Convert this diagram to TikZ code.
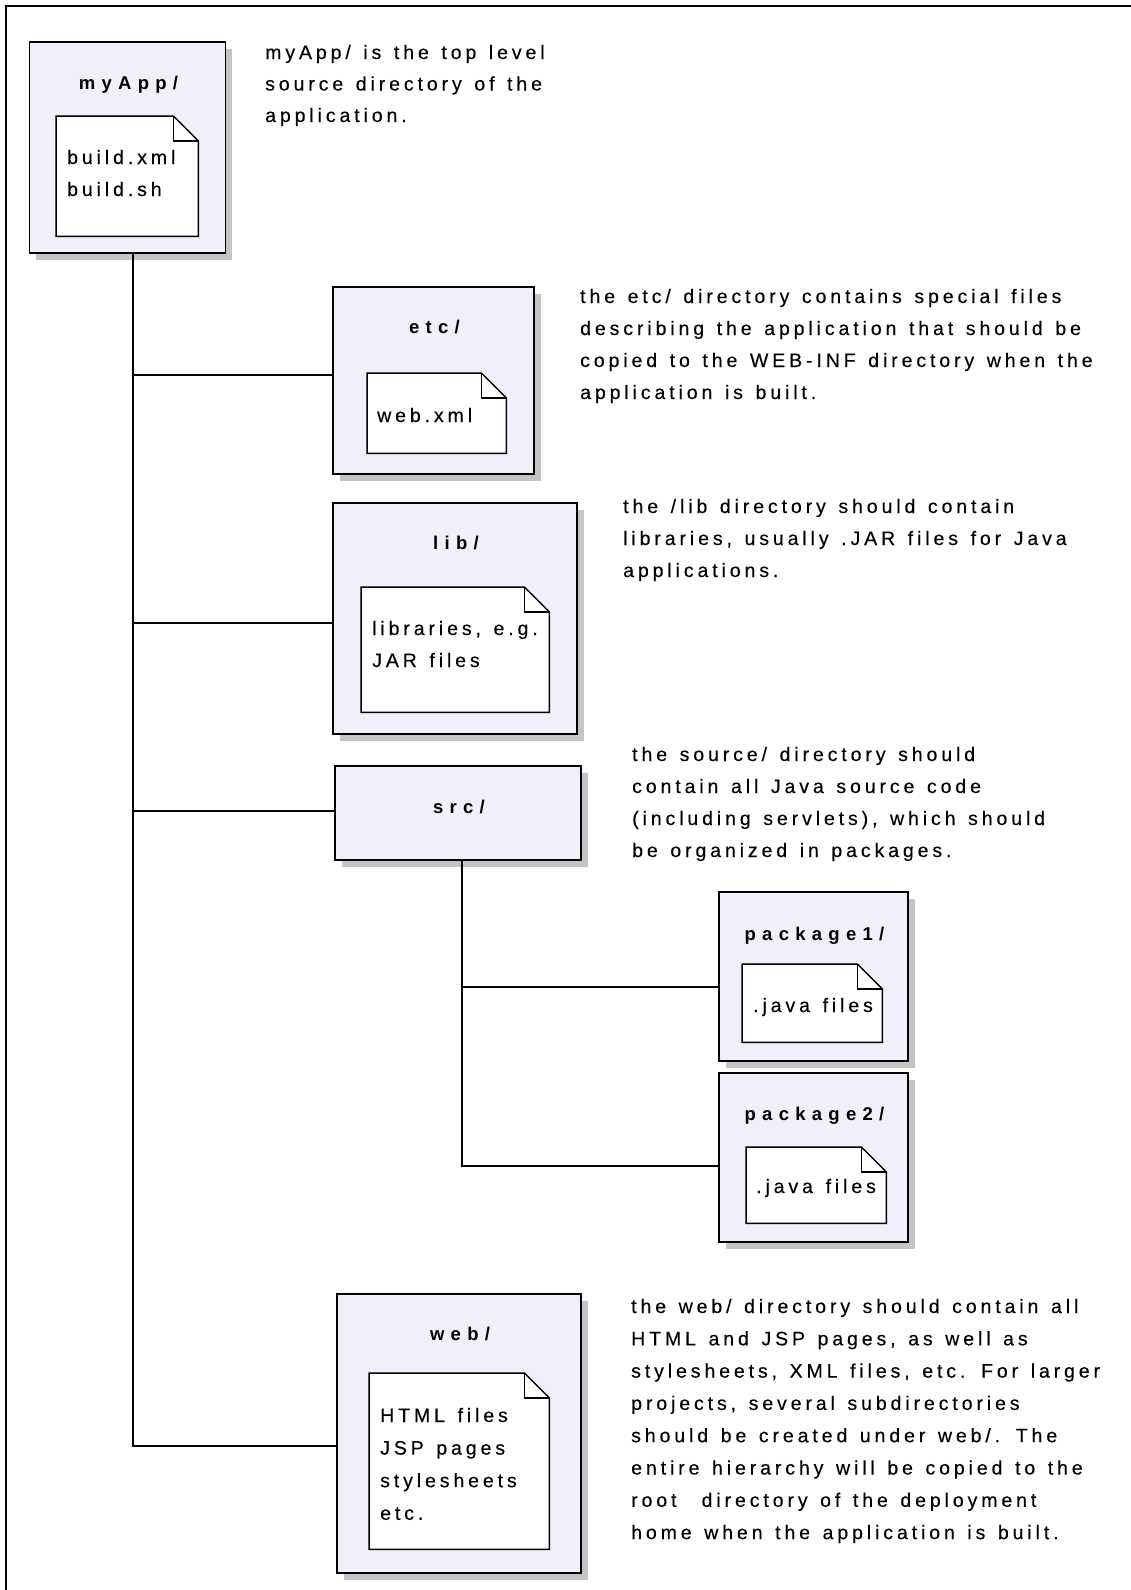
\documentclass[tikz,border=0pt]{standalone}
\usepackage{fontspec}
% tracked sans text; the word space is widened a little to go with the tracking
\setmainfont{Liberation Sans}[LetterSpace=20, WordSpace=1.35,
  UprightFeatures={FakeBold=0.3}]
\usetikzlibrary{shadows}

\definecolor{boxfill}{RGB}{240,240,250}
\definecolor{shadowgrey}{RGB}{196,196,196}

% several left-aligned lines whose baseline is the first line
\newcommand\txtlines[1]{\begin{tabular}[t]{@{}l@{}}#1\end{tabular}}

% a note sheet with a folded top-right corner, drawn round a named node
\newcommand\foldnote[1]{%
  \draw[notesheet] (#1.north west) -- ([xshift=-25pt]#1.north east)
    -- ([yshift=-25pt]#1.north east) -- (#1.south east)
    -- (#1.south west) -- cycle;
  \draw[foldline] ([xshift=-25pt]#1.north east) |- ([yshift=-25pt]#1.north east);
}

\tikzset{
  dirbox/.style={draw, fill=boxfill, line width=1.6pt, anchor=north west,
    inner sep=0pt, general shadow={fill=shadowgrey, shadow xshift=7pt, shadow yshift=-7pt}},
  notearea/.style={anchor=north west, inner sep=0pt},
  notesheet/.style={draw, fill=white, line width=1.5pt, line join=miter},
  foldline/.style={draw, line width=1.5pt},
  dirtitle/.style={anchor=base, inner sep=0pt, xshift=2pt,
    font=\bfseries\fontsize{18.5pt}{20pt}\selectfont\addfontfeature{LetterSpace=34}},
  body/.style={anchor=base west, inner sep=0pt, font=\fontsize{19.5pt}{32pt}\selectfont},
  conn/.style={line width=1.5pt},
}

\begin{document}
\begin{tikzpicture}[x=1pt, y=-1pt]
\useasboundingbox (0,0) rectangle (1130,1590);

% page frame (left and top edges)
\draw[line width=2pt] (6,1600) -- (6,6) -- (1140,6);

% ---- myApp/ ----
\node[dirbox, minimum width=196pt, minimum height=211pt] (myApp) at (28.5,41) {};
\node[dirtitle] (myAppT) at (126.5,89) {myApp/};
\node[notearea, minimum width=142pt, minimum height=120pt] (myAppN) at (56,116) {};
\foldnote{myAppN}
\node[body] (myAppF) at (67,164) {\txtlines{build.xml\\build.sh}};
\node[body, font=\fontsize{19.5pt}{31.5pt}\selectfont] (myAppD) at (265,59)
  {\txtlines{myApp/ is the top level\\source directory of the\\application.}};

% ---- etc/ ----
\node[dirbox, minimum width=201pt, minimum height=187pt] (etc) at (332,286) {};
\node[dirtitle] (etcT) at (432.5,333) {etc/};
\node[notearea, minimum width=139pt, minimum height=80pt] (etcN) at (367,373) {};
\foldnote{etcN}
\node[body] (etcF) at (377,422) {web.xml};
\node[body] (etcD) at (580,303)
  {\txtlines{the etc/ directory contains special files\\describing the application that should be\\copied to the WEB-INF directory when the\\application is built.}};

% ---- lib/ ----
\node[dirbox, minimum width=244pt, minimum height=231pt] (lib) at (332,502) {};
\node[dirtitle] (libT) at (454,549) {lib/};
\node[notearea, minimum width=188pt, minimum height=125pt] (libN) at (361,587) {};
\foldnote{libN}
\node[body] (libF) at (372,635) {\txtlines{libraries, e.g.\\JAR files}};
\node[body] (libD) at (623,513)
  {\txtlines{the /lib directory should contain\\libraries, usually .JAR files for Java\\applications.}};

% ---- src/ ----
\node[dirbox, minimum width=246pt, minimum height=94pt] (src) at (334,765) {};
\node[dirtitle] (srcT) at (457,813) {src/};
\node[body] (srcD) at (632,761)
  {\txtlines{the source/ directory should\\contain all Java source code\\(including servlets), which should\\be organized in packages.}};

% ---- package1/ ----
\node[dirbox, minimum width=189pt, minimum height=169pt] (pkgA) at (718,891) {};
\node[dirtitle] (pkgAT) at (812.5,940) {package1/};
\node[notearea, minimum width=140pt, minimum height=78pt] (pkgAN) at (742,964) {};
\foldnote{pkgAN}
\node[body] (pkgAF) at (753,1012) {.java files};

% ---- package2/ ----
\node[dirbox, minimum width=189pt, minimum height=169pt] (pkgB) at (718,1072) {};
\node[dirtitle] (pkgBT) at (812.5,1120) {package2/};
\node[notearea, minimum width=140pt, minimum height=76pt] (pkgBN) at (746,1147) {};
\foldnote{pkgBN}
\node[body] (pkgBF) at (756,1193) {.java files};

% ---- web/ ----
\node[dirbox, minimum width=244pt, minimum height=279pt] (web) at (336,1293) {};
\node[dirtitle] (webT) at (458,1340) {web/};
\node[notearea, minimum width=180pt, minimum height=176pt] (webN) at (369,1373) {};
\foldnote{webN}
\node[body, font=\fontsize{19.5pt}{32.6pt}\selectfont] (webF) at (380,1422)
  {\txtlines{HTML files\\JSP pages\\stylesheets\\etc.}};
\node[body, font=\fontsize{19.5pt}{32.3pt}\selectfont] (webD) at (631,1313)
  {\txtlines{the web/ directory should contain all\\HTML and JSP pages, as well as\\stylesheets, XML files, etc. For larger\\projects, several subdirectories\\should be created under web/. The\\entire hierarchy will be copied to the\\root\ \ directory of the deployment\\home when the application is built.}};

% ---- tree connectors ----
\draw[conn] ([xshift=5.5pt]myApp.south) |- ([yshift=5.5pt]etc.west);
\draw[conn] ([xshift=5.5pt]myApp.south) |- ([yshift=-4.5pt]lib.west);
\draw[conn] ([xshift=5.5pt]myApp.south) |- ([yshift=2pt]src.west);
\draw[conn] ([xshift=5.5pt]myApp.south) |- ([yshift=-12.5pt]web.west);
\draw[conn] ([xshift=4pt]src.south) |- ([yshift=-10.5pt]pkgA.west);
\draw[conn] ([xshift=4pt]src.south) |- ([yshift=-8.5pt]pkgB.west);
\end{tikzpicture}
\end{document}
